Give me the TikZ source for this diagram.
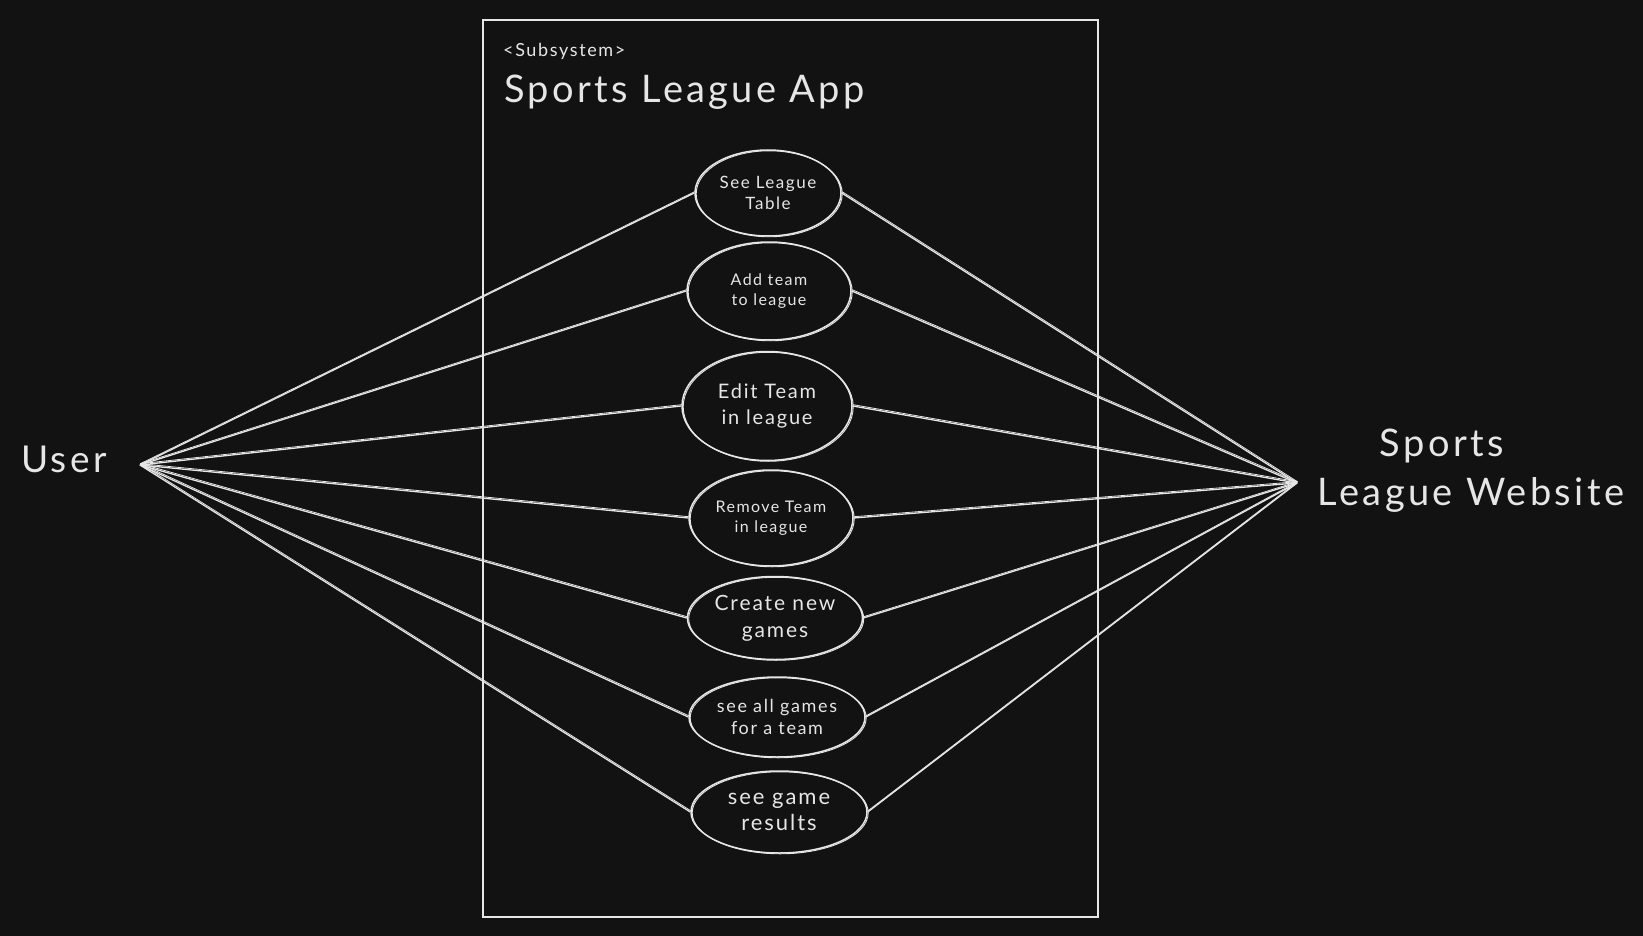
\documentclass[tikz,border=0pt]{standalone}
\usepackage{fontspec}
\setmainfont[LetterSpace=9]{Lato}
\usetikzlibrary{shapes.geometric}
\definecolor{bgc}{HTML}{121212}
\definecolor{ink}{HTML}{E6E6E6}
\tikzset{
  uc/.style={ellipse, draw=ink, line width=1.5pt, inner sep=0pt, text=ink, align=center,
    minimum width=#1},
  link/.style={draw=ink, line width=1.3pt,
    postaction={draw=ink, line width=0.8pt, transform canvas={shift={(0.4pt,1.3pt)}}}},
  lbl/.style={text=ink, inner sep=0pt, anchor=base},
  sketch/.style={postaction={draw=ink, line width=0.9pt, transform canvas={shift={(1.2pt,-0.8pt)}}}}
}
\begin{document}
\begin{tikzpicture}[x=1pt,y=-1pt]
\fill[bgc] (0,0) rectangle (1643,936);
\useasboundingbox (0,0) rectangle (1643,936);
% frame
\node[draw=ink, line width=1.8pt, minimum width=615pt, minimum height=897pt, inner sep=0pt, anchor=north west] (frame) at (482,19) {};
\node[lbl, anchor=base west, font=\fontsize{18}{20}\selectfont] (stereo) at (503,57) {<Subsystem>};
\node[lbl, anchor=base west, font=\fontsize{38}{44}\selectfont] (title) at (504,103) {Sports League App};
% actors
\node[lbl, anchor=base west, font=\fontsize{37}{40}\selectfont] (user) at (21,472) {User};
\coordinate (uhub) at (140,465);
\node[lbl, anchor=base, font=\fontsize{38}{44}\selectfont] (web1) at (1442,456) {Sports};
\node[lbl, anchor=base, font=\fontsize{38}{44}\selectfont] (web2) at (1471,505) {League Website};
\coordinate (whub) at (1297,483);
% use cases
\node[uc=146pt, minimum height=86pt, sketch, font=\fontsize{17}{21}\selectfont] (e1) at (768,193) {See League\\Table};
\node[uc=164pt, minimum height=98pt, sketch, font=\fontsize{16}{20}\selectfont] (e2) at (769,291) {Add team\\to league};
\node[uc=170pt, minimum height=109pt, sketch, font=\fontsize{20}{26}\selectfont] (e3) at (767,406) {Edit Team\\in league};
\node[uc=164pt, minimum height=96pt, sketch, font=\fontsize{16}{20}\selectfont] (e4) at (771,518) {Remove Team\\in league};
\node[uc=175pt, minimum height=83pt, sketch, font=\fontsize{21}{27}\selectfont] (e5) at (775,618) {Create new\\games};
\node[uc=176pt, minimum height=80pt, sketch, font=\fontsize{18}{22}\selectfont] (e6) at (777,717) {see all games\\for a team};
\node[uc=176pt, minimum height=82pt, sketch, font=\fontsize{22}{26}\selectfont] (e7) at (779,812) {see game\\results};
% connectors
\foreach \e in {e1,e2,e3,e4,e5,e6,e7}{
  \draw[link] (uhub) -- (\e.west);
  \draw[link] (\e.east) -- (whub);
}
\end{tikzpicture}
\end{document}
